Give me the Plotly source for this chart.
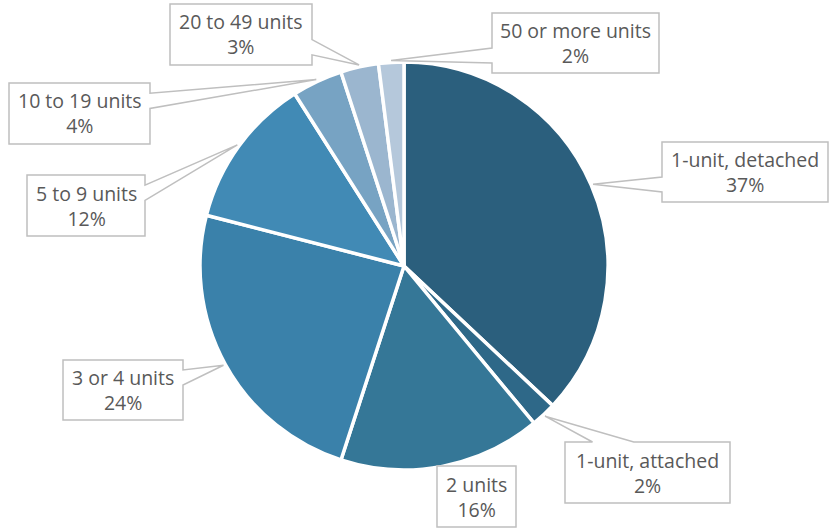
import math
import plotly.graph_objects as go

# Housing units by number of units in structure
categories = ["1-unit, detached", "1-unit, attached", "2 units", "3 or 4 units",
              "5 to 9 units", "10 to 19 units", "20 to 49 units", "50 or more units"]
shares = [37, 2, 16, 24, 12, 4, 3, 2]

colors = ["#2B5F7D", "#2E6888", "#357797", "#3A81AA",
          "#418AB5", "#77A3C3", "#9BB6CF", "#B5C8DB"]

W, H = 829, 529

# Pie placement in pixels (centre and radius)
CX, CY, R = 404, 266, 204

# Callout boxes in pixels: (left, top, right, bottom)
boxes = [
    (662, 142, 828, 202),
    (565, 442, 730, 503),
    (437, 466, 516, 527),
    (63, 360, 183, 420),
    (27, 175, 145, 236),
    (9, 83, 150, 144),
    (170, 4, 312, 65),
    (492, 13, 659, 73),
]


def px(x):
    return x / W


def py(y):
    return 1 - y / H


fig = go.Figure(go.Pie(
    labels=categories,
    values=shares,
    sort=False,
    direction="clockwise",
    rotation=0,
    textinfo="none",
    hoverinfo="label+percent",
    marker=dict(colors=colors, line=dict(color="white", width=3.5)),
    domain=dict(x=[px(CX - R), px(CX + R)], y=[py(CY + R), py(CY - R)]),
    showlegend=False,
))


def callout_path(box, tip):
    """Rectangle with a wedge pointer toward tip (wedgeRectCallout geometry)."""
    x0, y0, x1, y1 = box
    w, h = x1 - x0, y1 - y0
    hc, vc = (x0 + x1) / 2, (y0 + y1) / 2
    tx, ty = tip
    pts = []
    inside = (x0 - 3 <= tx <= x1 + 3) and (y0 - 3 <= ty <= y1 + 3)
    if inside:
        pts = [(x0, y0), (x1, y0), (x1, y1), (x0, y1)]
    else:
        dx, dy = tx - hc, ty - vc
        dq = dx * h / w
        xa = x0 + w * (7 if dx > 0 else 2) / 12
        xb = x0 + w * (10 if dx > 0 else 5) / 12
        ya = y0 + h * (7 if dy > 0 else 2) / 12
        yb = y0 + h * (10 if dy > 0 else 5) / 12
        vertical = abs(dy) - abs(dq) > 0
        pts.append((x0, y0))
        if vertical and dy < 0:
            pts += [(xa, y0), (tx, ty), (xb, y0)]
        pts.append((x1, y0))
        if not vertical and dx > 0:
            pts += [(x1, ya), (tx, ty), (x1, yb)]
        pts.append((x1, y1))
        if vertical and dy > 0:
            pts += [(xb, y1), (tx, ty), (xa, y1)]
        pts.append((x0, y1))
        if not vertical and dx < 0:
            pts += [(x0, yb), (tx, ty), (x0, ya)]
    return "M " + " L ".join(f"{px(x):.5f},{py(y):.5f}" for x, y in pts) + " Z"


total = sum(shares)
cum = 0
shapes, annotations = [], []
for name, val, box in zip(categories, shares, boxes):
    mid = (cum + val / 2) / total * 2 * math.pi
    cum += val
    tip = (CX + (R + 2) * math.sin(mid), CY - (R + 2) * math.cos(mid))
    shapes.append(dict(
        type="path", xref="paper", yref="paper", layer="above",
        path=callout_path(box, tip),
        fillcolor="white", line=dict(color="#BFBFBF", width=1.5),
    ))
    annotations.append(dict(
        x=px((box[0] + box[2]) / 2), y=py((box[1] + box[3]) / 2),
        xref="paper", yref="paper", xanchor="center", yanchor="middle",
        text=f"{name}<br>{val}%", showarrow=False, align="center",
        font=dict(family="Open Sans", size=19.5, color="#595959"),
    ))

fig.update_layout(
    width=W, height=H,
    margin=dict(l=0, r=0, t=0, b=0),
    paper_bgcolor="white", plot_bgcolor="white",
    shapes=shapes, annotations=annotations,
)

fig.write_html("out.html")
